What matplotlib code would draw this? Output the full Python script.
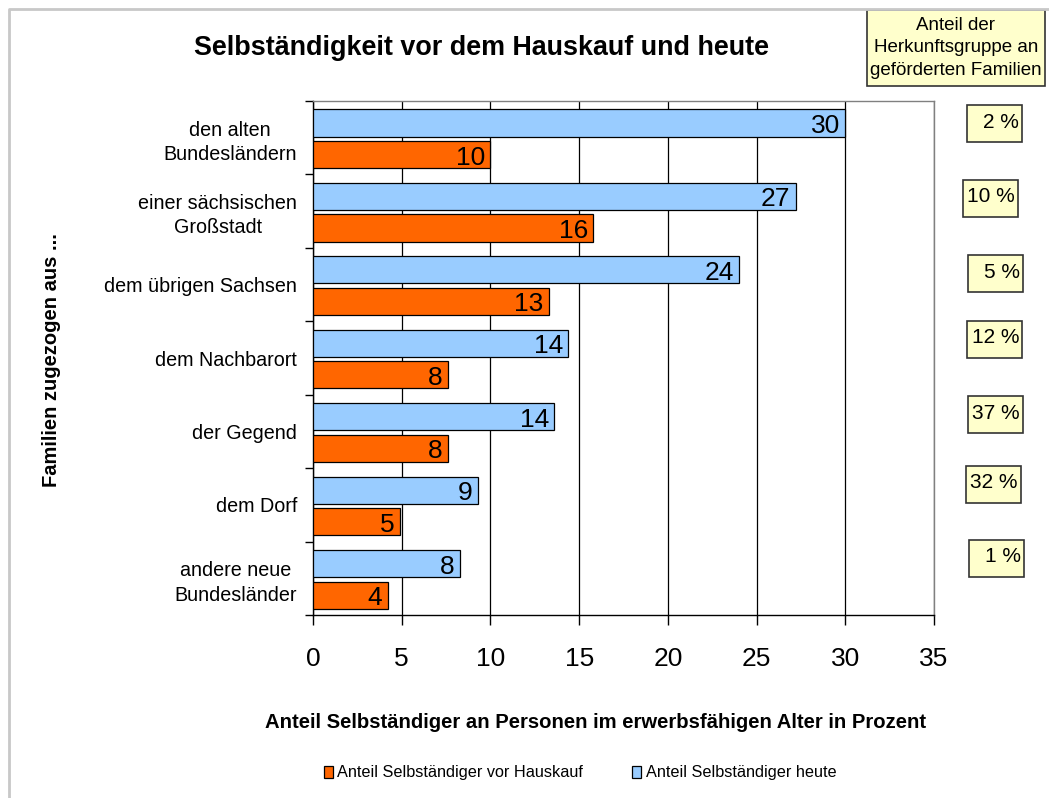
import numpy as np
import matplotlib
matplotlib.use("Agg")
import matplotlib.pyplot as plt
from matplotlib.patches import Rectangle
from matplotlib.lines import Line2D

plt.rcParams['font.family'] = ['Liberation Sans', 'DejaVu Sans']

# data
categories = [
    "den alten\nBundesländern",
    "einer sächsischen\nGroßstadt",
    "dem übrigen Sachsen",
    "dem Nachbarort",
    "der Gegend",
    "dem Dorf",
    "andere neue\nBundesländer",
]
heute = [30.0, 27.2, 24.0, 14.4, 13.6, 9.3, 8.3]
vor_hauskauf = [10.0, 15.8, 13.3, 7.6, 7.6, 4.9, 4.2]
anteil_familien = [2, 10, 5, 12, 37, 32, 1]

W, H = 1049, 798
BLUE = "#99CCFF"
ORANGE = "#FF6600"
BOX = "#FFFFCC"


def px(x, y):
    # pixel position (from top-left) -> figure fraction
    return x / W, 1 - y / H


fig = plt.figure(figsize=(W / 100, H / 100), dpi=100)
ax = fig.add_axes([313 / W, 1 - 615 / H, 621 / W, 514 / H])

y = np.arange(len(categories))
bh = 0.37
b_heute = ax.barh(y - 0.2, heute, height=bh, color=BLUE, edgecolor="black", linewidth=0.9,
                  label="Anteil Selbständiger heute", zorder=3)
b_vor = ax.barh(y + 0.23, vor_hauskauf, height=bh, color=ORANGE, edgecolor="black", linewidth=0.9,
                label="Anteil Selbständiger vor Hauskauf", zorder=3)

# value labels inside the bar ends
for bars, vals in ((b_heute, heute), (b_vor, vor_hauskauf)):
    for rect, v in zip(bars, vals):
        ax.text(v - 0.3, rect.get_y() + rect.get_height() / 2 + 0.04, f"{round(v):d}",
                ha="right", va="center", fontsize=19, color="black", zorder=4)

ax.set_xlim(0, 35)
ax.set_ylim(len(categories) - 0.5, -0.5)
ax.set_xticks(np.arange(0, 36, 5))
ax.tick_params(axis="x", labelsize=19, length=7, width=1, pad=16, direction="out")
ax.xaxis.grid(True, color="black", linewidth=0.9, zorder=0)
ax.set_axisbelow(True)

# category ticks between categories, labels at the centre
ax.set_yticks(np.arange(-0.5, len(categories), 1.0))
ax.set_yticklabels([])
ax.set_yticks(y, minor=True)
ax.set_yticklabels(categories, minor=True, fontsize=14.2, multialignment="center",
                   linespacing=1.35)
ax.tick_params(axis="y", which="major", length=6, width=1)
ax.tick_params(axis="y", which="minor", length=0, pad=11.5)

for s in ("left", "bottom"):
    ax.spines[s].set_color("black")
    ax.spines[s].set_linewidth(1.0)
for s in ("top", "right"):
    ax.spines[s].set_color("#808080")
    ax.spines[s].set_linewidth(1.0)

fig.text(*px(596, 723), "Anteil Selbständiger an Personen im erwerbsfähigen Alter in Prozent",
         ha="center", va="center", fontsize=14.6, fontweight="bold")
fig.text(*px(52, 360), "Familien zugezogen aus ...", rotation=90, ha="center", va="center",
         fontsize=14.5, fontweight="bold")

fig.text(*px(482, 48), "Selbständigkeit vor dem Hauskauf und heute", ha="center", va="center",
         fontsize=19.4, fontweight="bold")

# outer chart border (light grey)
fig.add_artist(Line2D([9 / W, 9 / W, 1.0], [0.0, 1 - 9 / H, 1 - 9 / H],
                      transform=fig.transFigure, color="#C8C8C8", linewidth=2))

# header box at top right
x0, y0 = px(867, 86)
fig.add_artist(Rectangle((x0, y0), 178 / W, 76 / H, transform=fig.transFigure,
                         facecolor=BOX, edgecolor="#333333", linewidth=1.2))
fig.text(*px(956, 48), "Anteil der\nHerkunftsgruppe an\ngeförderten Familien", ha="center",
         va="center", fontsize=13.5, linespacing=1.45)

# share boxes next to each category
box_left = [967, 963, 968, 967, 968, 966, 969]
box_top = [105, 180, 255, 321, 396, 466, 540]
box_w, box_h = 55, 37
for share, bx, by in zip(anteil_familien, box_left, box_top):
    fx, fy = px(bx, by + box_h)
    fig.add_artist(Rectangle((fx, fy), box_w / W, box_h / H, transform=fig.transFigure,
                             facecolor=BOX, edgecolor="#333333", linewidth=1.2))
    fig.text(*px(bx + box_w - 3, by + 17), f"{share} %", ha="right", va="center", fontsize=15)

fig.legend(handles=[b_vor, b_heute], loc="center", bbox_to_anchor=px(580, 773), ncol=2,
           frameon=False, fontsize=11.7, handlelength=0.55, handleheight=0.7, handletextpad=0.3,
           columnspacing=3.0)

fig.savefig("out.png", dpi=100, facecolor="white")
